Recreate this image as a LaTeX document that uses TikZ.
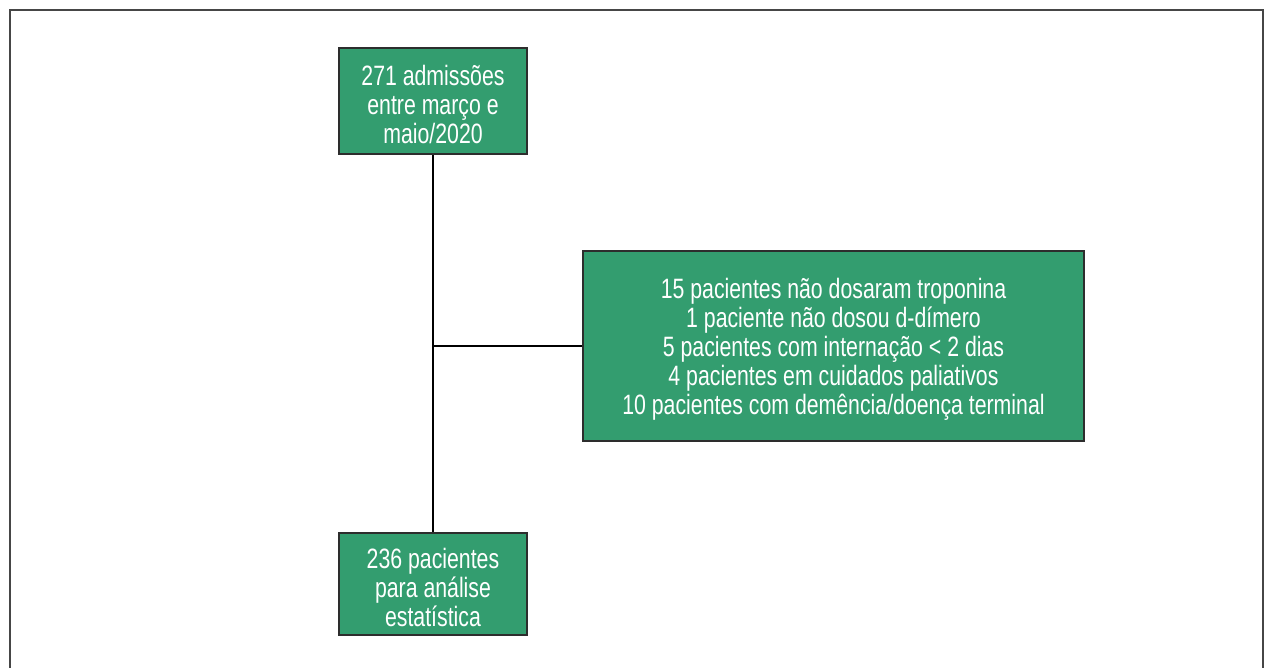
\documentclass[tikz,border=0pt]{standalone}
\usepackage{fontspec}
\setmainfont{Liberation Sans}[FakeStretch=0.76]
\definecolor{boxgreen}{RGB}{51,157,111}
\definecolor{boxedge}{RGB}{45,45,45}
\definecolor{framegray}{RGB}{70,70,70}
\begin{document}
\begin{tikzpicture}[x=1pt,y=-1pt,
  flowbox/.style={draw=boxedge,line width=2pt,fill=boxgreen,inner sep=0pt},
  boxtext/.style={text=white,align=center,inner sep=0pt,font=\fontsize{28}{29}\selectfont},
  link/.style={draw=black,line width=2pt}]
\useasboundingbox (0,0) rectangle (1269,668);
\draw[framegray,line width=2pt] (9.5,680) -- (9.5,10.5) -- (1262.5,10.5) -- (1262.5,680);
\node[flowbox,minimum width=188pt,minimum height=106pt] (top) at (433,101) {};
\node[boxtext] (toptext) at ([yshift=-3pt]top.center)
  {271 admissões\\entre março e\\maio/2020};
\node[flowbox,minimum width=501pt,minimum height=190pt] (mid) at (833.5,346) {};
\node[boxtext] (midtext) at ([yshift=-3pt]mid.center)
  {15 pacientes não dosaram troponina\\1 paciente não dosou d-dímero\\5 pacientes com internação < 2 dias\\4 pacientes em cuidados paliativos\\10 pacientes com demência/doença terminal};
\node[flowbox,minimum width=188pt,minimum height=102pt] (bot) at (433,584) {};
\node[boxtext] (bottext) at ([yshift=-3pt]bot.center)
  {236 pacientes\\para análise\\estatística};
\coordinate (j) at (top.south |- mid.west);
\draw[link] (top.south) -- (bot.north);
\draw[link] (j) -- (mid.west);
\end{tikzpicture}
\end{document}
